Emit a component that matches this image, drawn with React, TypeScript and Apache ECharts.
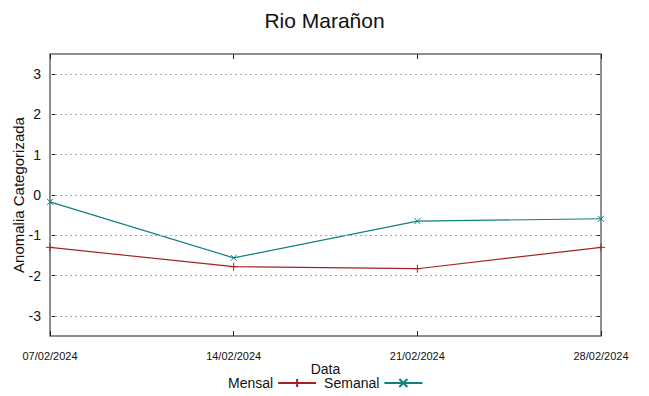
import React, { useEffect, useRef } from "react";
import * as echarts from "echarts";

const dates = ["07/02/2024", "14/02/2024", "21/02/2024", "28/02/2024"];
const mensal = [-1.3, -1.78, -1.83, -1.3];
const semanal = [-0.17, -1.56, -0.65, -0.59];
const yTicks = [-3, -2, -1, 0, 1, 2, 3];

const RED = "#a52323";
const TEAL = "#0f7f7f";

export default function App() {
  const ref = useRef<HTMLDivElement>(null);
  useEffect(() => {
    if (!ref.current) return;
    const chart = echarts.init(ref.current, null, { renderer: "svg" });
    const tickCfg = { show: true, inside: true, length: 5, lineStyle: { color: "#222", width: 1 } };
    chart.setOption({
      animation: false,
      backgroundColor: "#ffffff",
      title: {
        text: "Rio Marañon",
        left: "center",
        top: 5,
        textStyle: { fontFamily: "Liberation Sans", fontSize: 21, fontWeight: "normal", color: "#111" },
      },
      grid: {
        left: 50,
        right: 48,
        top: 54,
        bottom: 60,
        show: true,
        borderColor: "#6a6a6a",
        borderWidth: 1.5,
        backgroundColor: "transparent",
        containLabel: false,
        outerBoundsMode: "none",
      },
      legend: {
        left: 228,
        top: 375,
        padding: 0,
        align: "right",
        itemWidth: 38,
        itemHeight: 10,
        itemGap: 7,
        textStyle: { fontFamily: "Liberation Sans", fontSize: 14, color: "#111", lineHeight: 16 },
        data: ["Mensal", "Semanal"],
      },
      xAxis: [
        {
          type: "category",
          data: dates,
          boundaryGap: false,
          position: "bottom",
          axisLine: { show: false, onZero: false },
          axisTick: tickCfg,
          splitLine: { show: false },
          axisLabel: {
            fontFamily: "Liberation Sans",
            fontSize: 11,
            color: "#111",
            margin: 14,
            showMinLabel: true,
            showMaxLabel: true,
            interval: 0,
          },
          name: "Data",
          nameLocation: "middle",
          nameGap: 26,
          nameMoveOverlap: false,
          nameTextStyle: { fontFamily: "Liberation Sans", fontSize: 14, color: "#111" },
        },
        {
          type: "category",
          data: dates,
          boundaryGap: false,
          position: "top",
          axisLine: { show: false, onZero: false },
          axisTick: tickCfg,
          axisLabel: { show: false },
          splitLine: { show: false },
        },
      ],
      yAxis: [
        {
          type: "value",
          min: -3.5,
          max: 3.5,
          position: "left",
          axisLine: { show: false, onZero: false },
          axisTick: { ...tickCfg, customValues: yTicks },
          axisLabel: {
            fontFamily: "Liberation Sans",
            fontSize: 14,
            color: "#111",
            margin: 9,
            customValues: yTicks,
          },
          splitLine: { show: false },
          name: "Anomalia Categorizada",
          nameLocation: "middle",
          nameGap: 24,
          nameMoveOverlap: false,
          nameRotate: 90,
          nameTextStyle: { fontFamily: "Liberation Sans", fontSize: 15, color: "#111" },
        },
        {
          type: "value",
          min: -3.5,
          max: 3.5,
          position: "right",
          axisLine: { show: false, onZero: false },
          axisTick: { ...tickCfg, customValues: yTicks },
          axisLabel: { show: false },
          splitLine: { show: false },
        },
      ],
      series: [
        {
          name: "Mensal",
          type: "line",
          data: mensal,
          xAxisIndex: 0,
          yAxisIndex: 0,
          symbol: "path://M5,0L5,10M0,5L10,5",
          symbolSize: 8,
          showAllSymbol: true,
          lineStyle: { color: RED, width: 1.2 },
          itemStyle: { color: RED, borderColor: RED, borderWidth: 1 },
          markLine: {
            silent: true,
            symbol: "none",
            label: { show: false },
            lineStyle: { color: "#a8a8a8", type: [2, 3], width: 1 },
            data: yTicks.map((v) => ({ yAxis: v })),
          },
          z: 3,
        },
        {
          name: "Semanal",
          type: "line",
          data: semanal,
          xAxisIndex: 0,
          yAxisIndex: 0,
          symbol: "path://M0,0L10,10M10,0L0,10",
          symbolSize: 6,
          showAllSymbol: true,
          lineStyle: { color: TEAL, width: 1.2 },
          itemStyle: { color: TEAL, borderColor: TEAL, borderWidth: 1 },
          z: 4,
        },
      ],
    });
    return () => chart.dispose();
  }, []);
  return <div ref={ref} style={{ width: 649, height: 396, margin: -8 }} />;
}
